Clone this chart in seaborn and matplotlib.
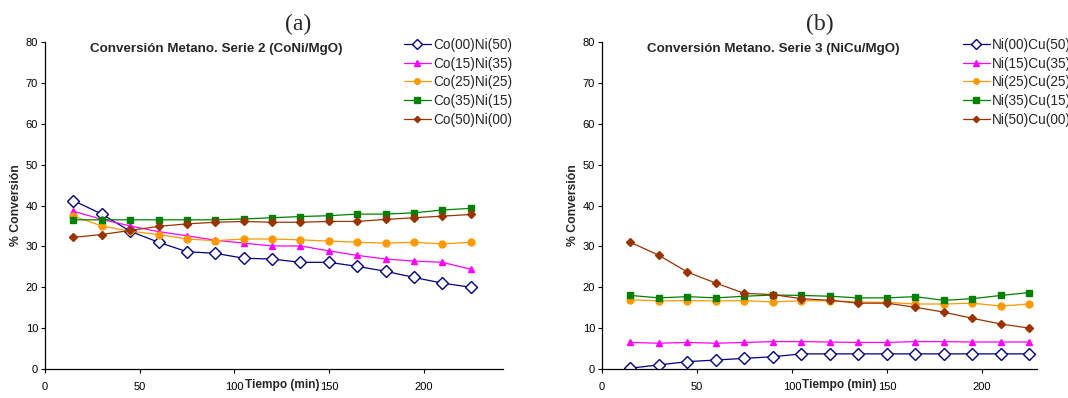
import numpy as np
import pandas as pd
import matplotlib
matplotlib.use("Agg")
import matplotlib.pyplot as plt
import seaborn as sns

sns.set_style("ticks")
plt.rcParams['font.family'] = ['Liberation Sans', 'DejaVu Sans']

tiempo = [15, 30, 45, 60, 75, 90, 105, 120, 135, 150, 165, 180, 195, 210, 225]

labels_a = ["Co(00)Ni(50)", "Co(15)Ni(35)", "Co(25)Ni(25)", "Co(35)Ni(15)", "Co(50)Ni(00)"]
co00ni50 = [41.2, 37.9, 33.7, 31.0, 28.7, 28.3, 27.1, 26.9, 26.1, 26.1, 25.1, 23.9, 22.4, 21.0, 20.0]
co15ni35 = [38.6, 36.6, 35.0, 33.6, 32.6, 31.5, 30.8, 30.1, 30.1, 28.9, 27.8, 26.9, 26.4, 26.1, 24.4]
co25ni25 = [37.4, 35.0, 33.7, 32.9, 31.8, 31.4, 31.8, 31.8, 31.6, 31.3, 31.0, 30.8, 31.0, 30.6, 31.0]
co35ni15 = [36.5, 36.5, 36.5, 36.5, 36.5, 36.5, 36.7, 37.0, 37.3, 37.5, 37.9, 37.9, 38.2, 38.9, 39.3]
co50ni00 = [32.2, 32.9, 33.9, 34.9, 35.5, 35.9, 36.1, 35.9, 35.9, 36.1, 36.1, 36.6, 37.0, 37.4, 37.8]

labels_b = ["Ni(00)Cu(50)", "Ni(15)Cu(35)", "Ni(25)Cu(25)", "Ni(35)Cu(15)", "Ni(50)Cu(00)"]
ni00cu50 = [0.2, 1.0, 1.8, 2.2, 2.6, 3.0, 3.7, 3.7, 3.7, 3.7, 3.7, 3.7, 3.7, 3.7, 3.7]
ni15cu35 = [6.5, 6.3, 6.5, 6.3, 6.5, 6.7, 6.7, 6.6, 6.5, 6.5, 6.7, 6.7, 6.6, 6.6, 6.6]
ni25cu25 = [16.9, 16.7, 16.7, 16.7, 16.7, 16.4, 16.7, 16.7, 16.4, 16.3, 15.9, 15.9, 16.1, 15.4, 15.9]
ni35cu15 = [18.0, 17.4, 17.7, 17.4, 17.8, 18.1, 18.0, 17.8, 17.4, 17.4, 17.7, 16.8, 17.2, 18.0, 18.7]
ni50cu00 = [31.0, 27.8, 23.7, 21.0, 18.5, 18.2, 17.2, 16.8, 16.1, 16.1, 15.1, 13.9, 12.4, 11.0, 10.0]

yticks = [0, 10, 20, 30, 40, 50, 60, 70, 80]
xticks = [0, 50, 100, 150, 200]

colors = ['#000080', '#FF00FF', '#FF9900', '#008000', '#993300']
markers = ['D', '^', 'o', 's', 'D']
msizes = [6, 5, 5, 5, 4]
mfaces = ['white', None, None, None, None]

W, H = 1068, 398
fig = plt.figure(figsize=(W / 100, H / 100), dpi=100)


def panel(left_px, right_px, xmax, series, labels, title, letter, letter_x, legend_x):
    ax = fig.add_axes([left_px / W, (H - 369) / H, (right_px - left_px) / W, (369 - 42) / H])
    for vals, lab, c, m, ms, mf in zip(series, labels, colors, markers, msizes, mfaces):
        sns.lineplot(x=tiempo, y=vals, ax=ax, color=c, marker=m, markersize=ms,
                     markerfacecolor=mf if mf else c, markeredgecolor=c,
                     markeredgewidth=1.0, linewidth=0.9, label=lab)
    ax.set_xlim(0, xmax)
    ax.set_ylim(0, 80)
    ax.set_xticks(xticks)
    ax.set_yticks(yticks)
    ax.tick_params(axis='both', labelsize=8, length=3, width=0.8, pad=2, colors='black')
    ax.tick_params(axis='x', pad=6)
    for s in ['top', 'right']:
        ax.spines[s].set_visible(False)
    for s in ['left', 'bottom']:
        ax.spines[s].set_linewidth(0.9)
        ax.spines[s].set_color('black')
    ax.set_xlabel('')
    ax.set_ylabel('')
    wpx = right_px - left_px
    ax.text(237 / wpx, (369 - 385) / 327, 'Tiempo (min)', transform=ax.transAxes,
            ha='center', va='center', fontsize=8.6, fontweight='bold')
    ax.text(-29 / wpx, 0.5, '% Conversión', transform=ax.transAxes, rotation=90,
            ha='center', va='center', fontsize=8.8, fontweight='bold')
    ax.text(171 / wpx, (369 - 49) / 327, title, transform=ax.transAxes, ha='center', va='center',
            fontsize=9.6, fontweight='bold')
    fig.text(letter_x / W, 1 - 24 / H, letter, ha='center', va='center', fontsize=17,
             family=['Liberation Serif', 'DejaVu Serif'])
    ax.legend_.remove()
    handles, labs = ax.get_legend_handles_labels()
    fig.legend(handles, labs, loc='upper left', bbox_to_anchor=(legend_x / W, 1 - 38 / H),
               frameon=False, fontsize=9.8, handlelength=1.95, handletextpad=0.2,
               labelspacing=0.34, borderaxespad=0, borderpad=0, markerscale=0.8)
    return ax


panel(45, 503, 242, [co00ni50, co15ni35, co25ni25, co35ni15, co50ni00], labels_a,
      'Conversión Metano. Serie 2 (CoNi/MgO)', '(a)', 298, 404)
panel(602, 1037, 229, [ni00cu50, ni15cu35, ni25cu25, ni35cu15, ni50cu00], labels_b,
      'Conversión Metano. Serie 3 (NiCu/MgO)', '(b)', 820, 963)

fig.savefig('out.png', dpi=100)
